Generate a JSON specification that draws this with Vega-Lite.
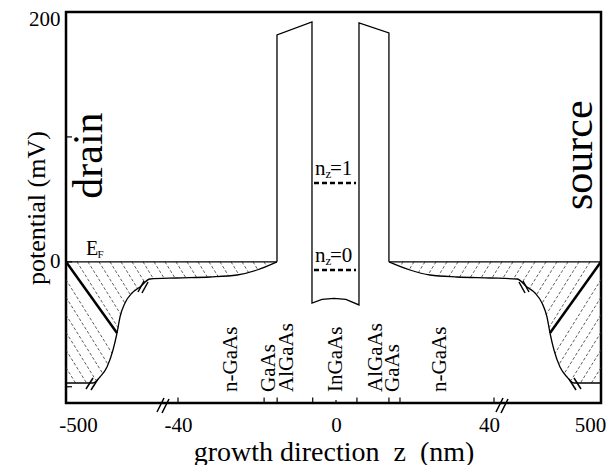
{
  "$schema": "https://vega.github.io/schema/vega-lite/v6.json",
  "width": 535,
  "height": 391,
  "autosize": {"type": "none"},
  "padding": {"left": 66, "top": 12, "right": 5, "bottom": 62},
  "background": "white",
  "config": {
    "view": {"stroke": "black", "strokeWidth": 2.5},
    "font": "Liberation Serif"
  },
  "datasets": {
    "band": [
      {"part": "left", "i": 1, "z": -500, "v": -97.0},
      {"part": "left", "i": 2, "z": -389.1, "v": -97.0},
      {"part": "left", "i": 3, "z": -360.4, "v": -92.19},
      {"part": "left", "i": 4, "z": -331.6, "v": -84.18},
      {"part": "left", "i": 5, "z": -307.0, "v": -70.57},
      {"part": "left", "i": 6, "z": -290.5, "v": -56.96},
      {"part": "left", "i": 7, "z": -278.2, "v": -44.16},
      {"part": "left", "i": 8, "z": -257.7, "v": -32.95},
      {"part": "left", "i": 9, "z": -228.9, "v": -24.94},
      {"part": "left", "i": 10, "z": -196.1, "v": -20.14},
      {"part": "left", "i": 11, "z": -155.0, "v": -13.74},
      {"part": "left", "i": 12, "z": -44.1, "v": -12.93},
      {"part": "left", "i": 13, "z": -31.9, "v": -12.13},
      {"part": "left", "i": 14, "z": -25.06, "v": -10.53},
      {"part": "left", "i": 15, "z": -20.0, "v": -6.53},
      {"part": "left", "i": 16, "z": -14.94, "v": 0},
      {"part": "right", "i": 1, "z": 13.4, "v": 0},
      {"part": "right", "i": 2, "z": 18.73, "v": -6.53},
      {"part": "right", "i": 3, "z": 23.8, "v": -10.53},
      {"part": "right", "i": 4, "z": 30.63, "v": -12.13},
      {"part": "right", "i": 5, "z": 38.99, "v": -12.93},
      {"part": "right", "i": 6, "z": 138.9, "v": -13.74},
      {"part": "right", "i": 7, "z": 181.9, "v": -20.14},
      {"part": "right", "i": 8, "z": 216.3, "v": -24.94},
      {"part": "right", "i": 9, "z": 246.4, "v": -32.95},
      {"part": "right", "i": 10, "z": 267.9, "v": -44.16},
      {"part": "right", "i": 11, "z": 280.7, "v": -56.96},
      {"part": "right", "i": 12, "z": 297.9, "v": -70.57},
      {"part": "right", "i": 13, "z": 323.7, "v": -84.18},
      {"part": "right", "i": 14, "z": 353.8, "v": -92.19},
      {"part": "right", "i": 15, "z": 383.9, "v": -97.0},
      {"part": "right", "i": 16, "z": 500, "v": -97.0}
    ],
    "outline": [
      {"part": "qw", "i": 1, "z": -14.94, "v": 0},
      {"part": "qw", "i": 2, "z": -14.94, "v": 181.6},
      {"part": "qw", "i": 3, "z": -6.08, "v": 192.0},
      {"part": "qw", "i": 4, "z": -6.08, "v": -32.95},
      {"part": "qw", "i": 5, "z": -3.54, "v": -30.1},
      {"part": "qw", "i": 6, "z": -0.5, "v": -29.3},
      {"part": "qw", "i": 7, "z": 2.5, "v": -30.0},
      {"part": "qw", "i": 8, "z": 5.82, "v": -34.5},
      {"part": "qw", "i": 9, "z": 5.82, "v": 191.2},
      {"part": "qw", "i": 10, "z": 13.4, "v": 183.2},
      {"part": "qw", "i": 11, "z": 13.4, "v": 0},
      {"part": "efl", "i": 1, "z": -500, "v": 0},
      {"part": "efl", "i": 2, "z": -14.94, "v": 0},
      {"part": "efr", "i": 1, "z": 13.4, "v": 0},
      {"part": "efr", "i": 2, "z": 500, "v": 0}
    ],
    "hatch": [
      {"z": -454.8, "v": 0, "z2": -286.4, "v2": -52.64},
      {"z": -409.6, "v": 0, "z2": -274.7, "v2": -42.23},
      {"z": -364.5, "v": 0, "z2": -258.1, "v2": -33.03},
      {"z": -319.3, "v": 0, "z2": -234.7, "v2": -26.54},
      {"z": -274.1, "v": 0, "z2": -205.5, "v2": -21.5},
      {"z": -228.9, "v": 0, "z2": -175.1, "v2": -16.86},
      {"z": -183.8, "v": 0, "z2": -140.6, "v2": -13.66},
      {"z": -138.6, "v": 0, "z2": -97.1, "v2": -13.1},
      {"z": -93.4, "v": 0, "z2": -52.3, "v2": -12.94},
      {"z": -48.2, "v": 0, "z2": -38.03, "v2": -12.7},
      {"z": -37.72, "v": 0, "z2": -35.29, "v2": -12.46},
      {"z": -34.94, "v": 0, "z2": -32.56, "v2": -12.22},
      {"z": -32.15, "v": 0, "z2": -29.87, "v2": -11.66},
      {"z": -29.37, "v": 0, "z2": -27.22, "v2": -11.02},
      {"z": -26.58, "v": 0, "z2": -24.61, "v2": -10.13},
      {"z": -23.8, "v": 0, "z2": -22.18, "v2": -8.29},
      {"z": -21.01, "v": 0, "z2": -19.8, "v2": -6.29},
      {"z": -18.23, "v": 0, "z2": -17.57, "v2": -3.49},
      {"z": -500, "v": -14.22, "z2": -311.5, "v2": -73.05},
      {"z": -500, "v": -28.31, "z2": -327.7, "v2": -82.02},
      {"z": -500, "v": -42.39, "z2": -349.7, "v2": -89.22},
      {"z": -500, "v": -56.48, "z2": -376.8, "v2": -94.91},
      {"z": -500, "v": -70.57, "z2": -415.4, "v2": -96.99},
      {"z": -500, "v": -84.66, "z2": -460.6, "v2": -96.99},
      {"z": 452.7, "v": 0, "z2": 276.5, "v2": -52.64},
      {"z": 405.4, "v": 0, "z2": 264.2, "v2": -42.23},
      {"z": 358.1, "v": 0, "z2": 246.8, "v2": -33.03},
      {"z": 310.8, "v": 0, "z2": 222.3, "v2": -26.54},
      {"z": 263.6, "v": 0, "z2": 191.8, "v2": -21.5},
      {"z": 216.3, "v": 0, "z2": 159.9, "v2": -16.86},
      {"z": 169.0, "v": 0, "z2": 123.8, "v2": -13.66},
      {"z": 121.7, "v": 0, "z2": 78.3, "v2": -13.1},
      {"z": 74.4, "v": 0, "z2": 39.49, "v2": -12.94},
      {"z": 39.24, "v": 0, "z2": 36.76, "v2": -12.7},
      {"z": 36.45, "v": 0, "z2": 34.02, "v2": -12.46},
      {"z": 33.67, "v": 0, "z2": 31.29, "v2": -12.22},
      {"z": 30.88, "v": 0, "z2": 28.61, "v2": -11.66},
      {"z": 28.1, "v": 0, "z2": 25.95, "v2": -11.02},
      {"z": 25.32, "v": 0, "z2": 23.34, "v2": -10.13},
      {"z": 22.53, "v": 0, "z2": 20.91, "v2": -8.29},
      {"z": 19.75, "v": 0, "z2": 18.53, "v2": -6.29},
      {"z": 16.96, "v": 0, "z2": 16.3, "v2": -3.49},
      {"z": 500, "v": -14.22, "z2": 302.7, "v2": -73.05},
      {"z": 500, "v": -28.31, "z2": 319.7, "v2": -82.02},
      {"z": 500, "v": -42.39, "z2": 342.7, "v2": -89.22},
      {"z": 500, "v": -56.48, "z2": 371.0, "v2": -94.91},
      {"z": 500, "v": -70.57, "z2": 411.4, "v2": -96.99},
      {"z": 500, "v": -84.66, "z2": 458.7, "v2": -96.99}
    ],
    "thick": [
      {"z": -500, "v": 0, "z2": -290.5, "v2": -56.96},
      {"z": 500, "v": 0, "z2": 280.7, "v2": -56.96}
    ],
    "breaks": [
      {"z": -126.3, "v": -120.2, "z2": -97.5, "v2": -109.0},
      {"z": -105.7, "v": -121.0, "z2": -76.9, "v2": -109.8},
      {"z": 48.6, "v": -120.2, "z2": 78.7, "v2": -109.0},
      {"z": 70.1, "v": -121.0, "z2": 100.2, "v2": -109.8},
      {"z": -417.9, "v": -101.8, "z2": -389.1, "v2": -93.0},
      {"z": -397.3, "v": -102.6, "z2": -368.6, "v2": -93.8},
      {"z": -204.3, "v": -24.14, "z2": -179.6, "v2": -15.34},
      {"z": -187.9, "v": -24.94, "z2": -163.2, "v2": -16.14},
      {"z": 414.0, "v": -101.8, "z2": 383.9, "v2": -93.0},
      {"z": 392.5, "v": -102.6, "z2": 362.4, "v2": -93.8},
      {"z": 190.5, "v": -24.14, "z2": 164.7, "v2": -15.34},
      {"z": 173.3, "v": -24.94, "z2": 147.5, "v2": -16.14}
    ],
    "xticks": [
      {"z": -40, "v": -113, "v2": -108.5},
      {"z": -18.2, "v": -113, "v2": -108.5},
      {"z": -14.9, "v": -113, "v2": -108.5},
      {"z": -5.9, "v": -113, "v2": -108.5},
      {"z": 0, "v": -113, "v2": -110.5},
      {"z": 5.3, "v": -113, "v2": -108.5},
      {"z": 13.4, "v": -113, "v2": -108.5},
      {"z": 16.2, "v": -113, "v2": -108.5},
      {"z": 40, "v": -113, "v2": -108.5}
    ],
    "yticks": [
      {"v": -100, "z": -500, "z2": -475.4},
      {"v": 0, "z": -500, "z2": -475.4},
      {"v": 100, "z": -500, "z2": -475.4}
    ],
    "levels": [
      {"level": "n_z=1", "z": -5.57, "z2": 5.06, "v": 63.1},
      {"level": "n_z=0", "z": -5.57, "z2": 5.06, "v": -6.53}
    ],
    "labels": [
      {"t": "E", "z": -417.9, "v": 5.08, "s": 20},
      {"t": "F", "z": -370.6, "v": 3.0, "s": 11},
      {"t": "n", "z": -5.32, "v": 69.5, "s": 21},
      {"t": "z", "z": -2.66, "v": 67.1, "s": 13},
      {"t": "=1", "z": -1.52, "v": 69.5, "s": 21},
      {"t": "n", "z": -5.32, "v": -0.13, "s": 21},
      {"t": "z", "z": -2.66, "v": -2.53, "s": 13},
      {"t": "=0", "z": -1.52, "v": -0.13, "s": 21}
    ],
    "layers": [
      {"t": "n-GaAs", "z": -24.94, "v": -104.2},
      {"t": "GaAs", "z": -15.44, "v": -104.2},
      {"t": "AlGaAs", "z": -11.01, "v": -104.2},
      {"t": "InGaAs", "z": 1.52, "v": -104.2},
      {"t": "AlGaAs", "z": 11.64, "v": -104.2},
      {"t": "GaAs", "z": 15.95, "v": -104.2},
      {"t": "n-GaAs", "z": 27.97, "v": -104.2}
    ],
    "contacts": [
      {"t": "drain", "z": -352.1, "v": 85.1},
      {"t": "source", "z": 461.3, "v": 85.4}
    ]
  },
  "encoding": {
    "x": {
      "field": "z",
      "type": "quantitative",
      "scale": {"domain": [-500, -40, 40, 500], "range": [0, 112, 428, 535], "nice": false, "zero": false},
      "axis": {
        "values": [-500, -40, 0, 40, 500],
        "labelExpr": "datum.value == -500 ? '-500' : datum.value == -40 ? '-40' : datum.value == 0 ? '0' : datum.value == 40 ? '40' : '500'",
        "labelOffset": {"condition": [{"test": "datum.value == -500", "value": 12}, {"test": "datum.value == 500", "value": -11}, {"test": "datum.value == 40", "value": -5}], "value": 0},
        "ticks": false,
        "domain": false,
        "grid": false,
        "labelFont": "Liberation Serif",
        "labelFontSize": 21,
        "labelColor": "black",
        "labelPadding": 11,
        "labelFlush": false,
        "labelOverlap": false,
        "title": "growth direction\u00a0\u00a0z\u00a0\u00a0(nm)",
        "titleFont": "Liberation Serif",
        "titleFontSize": 28,
        "titleFontWeight": "normal",
        "titleColor": "black",
        "titleBaseline": "alphabetic",
        "titleY": 57
      }
    },
    "y": {
      "field": "v",
      "type": "quantitative",
      "scale": {"domain": [-113, 200], "nice": false, "zero": false},
      "axis": {
        "values": [0, 200],
        "labelExpr": "datum.value == 0 ? '0' : '200'",
        "labelOffset": {"condition": {"test": "datum.value == 200", "value": 7}, "value": 0},
        "ticks": false,
        "domain": false,
        "grid": false,
        "labelFont": "Liberation Serif",
        "labelFontSize": 21,
        "labelColor": "black",
        "labelPadding": 6,
        "labelFlush": false,
        "title": "potential (mV)",
        "titleFont": "Liberation Serif",
        "titleFontSize": 26,
        "titleFontWeight": "normal",
        "titleColor": "black",
        "titleBaseline": "alphabetic",
        "titleX": -22
      }
    }
  },
  "layer": [
    {
      "data": {"name": "hatch"},
      "mark": {"type": "rule", "stroke": "#333333", "strokeWidth": 0.8, "strokeDash": [3, 2]},
      "encoding": {"x2": {"field": "z2"}, "y2": {"field": "v2"}}
    },
    {
      "data": {"name": "band"},
      "mark": {"type": "line", "stroke": "black", "strokeWidth": 1.3, "interpolate": "monotone"},
      "encoding": {"detail": {"field": "part"}, "order": {"field": "i", "type": "quantitative"}}
    },
    {
      "data": {"name": "outline"},
      "mark": {"type": "line", "stroke": "black", "strokeWidth": 1.3},
      "encoding": {"detail": {"field": "part"}, "order": {"field": "i", "type": "quantitative"}}
    },
    {
      "data": {"name": "thick"},
      "mark": {"type": "rule", "stroke": "black", "strokeWidth": 2.5},
      "encoding": {"x2": {"field": "z2"}, "y2": {"field": "v2"}}
    },
    {
      "data": {"name": "breaks"},
      "mark": {"type": "rule", "stroke": "black", "strokeWidth": 1.5, "clip": false},
      "encoding": {"x2": {"field": "z2"}, "y2": {"field": "v2"}}
    },
    {
      "data": {"name": "xticks"},
      "mark": {"type": "rule", "stroke": "black", "strokeWidth": 1.2},
      "encoding": {"y2": {"field": "v2"}}
    },
    {
      "data": {"name": "yticks"},
      "mark": {"type": "rule", "stroke": "black", "strokeWidth": 1.2},
      "encoding": {"x2": {"field": "z2"}}
    },
    {
      "data": {"name": "levels"},
      "mark": {"type": "rule", "stroke": "black", "strokeWidth": 2.5, "strokeDash": [5, 3]},
      "encoding": {"x2": {"field": "z2"}}
    },
    {
      "data": {"name": "labels"},
      "mark": {"type": "text", "align": "left", "baseline": "alphabetic", "font": "Liberation Serif", "color": "black"},
      "encoding": {"text": {"field": "t"}, "size": {"field": "s", "type": "quantitative", "scale": null}}
    },
    {
      "data": {"name": "layers"},
      "mark": {"type": "text", "align": "left", "baseline": "alphabetic", "angle": 270, "font": "Liberation Serif", "fontSize": 21, "color": "black"},
      "encoding": {"text": {"field": "t"}}
    },
    {
      "data": {"name": "contacts"},
      "mark": {"type": "text", "align": "center", "baseline": "alphabetic", "angle": 270, "font": "Liberation Serif", "fontSize": 42, "color": "black"},
      "encoding": {"text": {"field": "t"}}
    }
  ]
}
